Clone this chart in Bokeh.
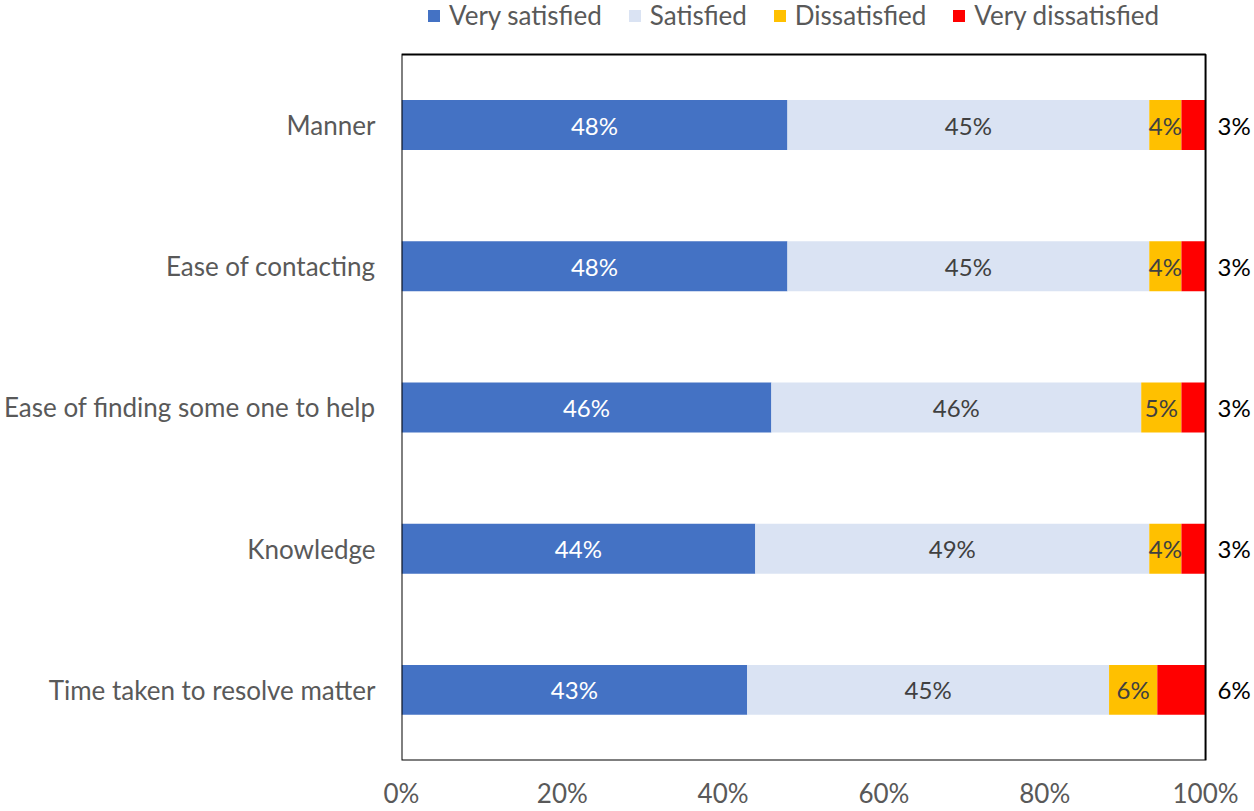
from bokeh.plotting import figure
from bokeh.models import (ColumnDataSource, Range1d, FixedTicker, BoxAnnotation,
                          NumeralTickFormatter, Legend, LegendItem)
from bokeh.core.properties import value
from bokeh.embed import file_html
from bokeh.resources import INLINE

categories = ["Manner", "Ease of contacting", "Ease of finding some one to help",
              "Knowledge", "Time taken to resolve matter"]
very_satisfied = [48, 48, 46, 44, 43]
satisfied = [45, 45, 46, 49, 45]
dissatisfied = [4, 4, 5, 4, 6]
very_dissatisfied = [3, 3, 3, 3, 6]
series_names = ["Very satisfied", "Satisfied", "Dissatisfied", "Very dissatisfied"]
colors = ["#4472C4", "#DAE3F3", "#FFC000", "#FF0000"]
ticks = [0, 0.2, 0.4, 0.6, 0.8, 1.0]

FONT = "Lato"
series = [very_satisfied, satisfied, dissatisfied, very_dissatisfied]
keys = ["vs", "s", "d", "vd"]
n = len(categories)
ypos = [n - 1 - i for i in range(n)]

data = {"y": ypos}
for k, vals in zip(keys, series):
    data[k] = [v / 100 for v in vals]
source = ColumnDataSource(data)

W, H = 1254, 811
LEFT, BOTTOM = 400, 50
TOP_GAP = 54
frame_w = W - LEFT
frame_h = H - BOTTOM
px_per_x = 805
area_px = frame_h - TOP_GAP
cat_px = area_px / n
x_end = frame_w / px_per_x
y_top = (n - 0.5) + TOP_GAP / cat_px

p = figure(width=W, height=H, x_range=Range1d(0, x_end), y_range=Range1d(-0.5, y_top),
           output_backend="svg", toolbar_location=None,
           min_border_left=LEFT, min_border_right=0, min_border_top=0, min_border_bottom=BOTTOM)

renderers = p.hbar_stack(keys, y="y", height=50 / cat_px, color=colors, source=source,
                         line_color=None)

# border of the plotting area (0..100%)
p.add_layout(BoxAnnotation(left=0, right=1, bottom=-0.5, top=n - 0.5, fill_alpha=0,
                           line_color="#000000", line_alpha=1.0, line_width=2))

# value labels
for i, (k, vals) in enumerate(zip(keys, series)):
    lefts = [sum(series[m][j] for m in range(i)) / 100 for j in range(n)]
    centers = [l + v / 200 for l, v in zip(lefts, vals)]
    lsrc = ColumnDataSource(dict(y=ypos, x=centers, t=[f"{v}%" for v in vals],
                                 xe=[1.0] * n))
    if i == 3:
        p.text(x="xe", y="y", text="t", source=lsrc, x_offset=12, text_align="left",
               text_baseline="middle", text_font=value(FONT), text_font_size="24px",
               text_color="#000000")
    else:
        p.text(x="x", y="y", text="t", source=lsrc, text_align="center",
               text_baseline="middle", text_font=value(FONT), text_font_size="24px",
               text_color="#FFFFFF" if i == 0 else "#404040")

legend = Legend(items=[LegendItem(label=s, renderers=[r]) for s, r in zip(series_names, renderers)],
                orientation="horizontal", location=(25, frame_h - 32),
                label_text_font=FONT, label_text_font_size="26px", label_text_color="#595959",
                glyph_width=15, glyph_height=15, spacing=25, label_standoff=8,
                border_line_color=None, background_fill_alpha=0, padding=0, margin=0)
p.add_layout(legend)

p.xaxis.ticker = FixedTicker(ticks=ticks)
p.xaxis.formatter = NumeralTickFormatter(format="0%")
p.yaxis.ticker = FixedTicker(ticks=ypos)
p.yaxis.major_label_overrides = {y: c for y, c in zip(ypos, categories)}
for ax in (p.xaxis, p.yaxis):
    ax.axis_line_color = None
    ax.major_tick_line_color = None
    ax.minor_tick_line_color = None
    ax.major_tick_out = 0
    ax.major_tick_in = 0
    ax.major_label_text_font = FONT
    ax.major_label_text_font_size = "26px"
    ax.major_label_text_color = "#595959"
p.xaxis.major_label_standoff = 16
p.yaxis.major_label_standoff = 26
p.xgrid.grid_line_color = None
p.ygrid.grid_line_color = None
p.outline_line_color = None
p.background_fill_color = "#FFFFFF"

open("out.html", "w").write(file_html(p, INLINE))
